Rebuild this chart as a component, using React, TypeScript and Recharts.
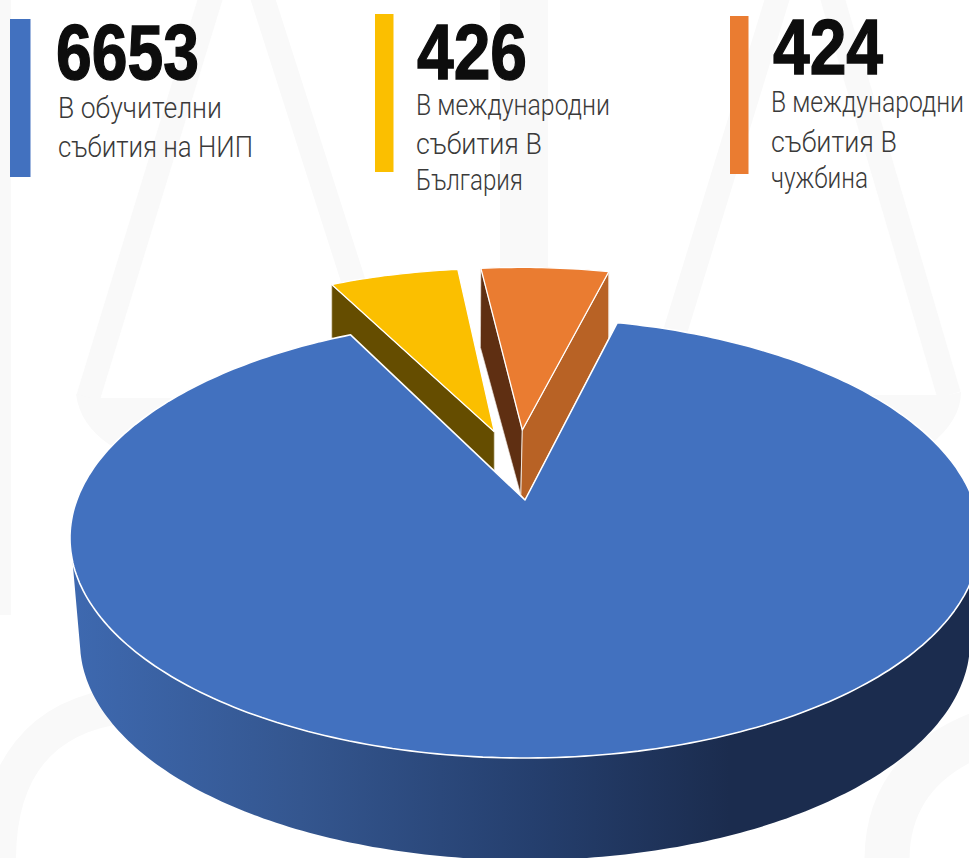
import React from "react";
import { PieChart, Pie } from "recharts";

// ---------- data ----------
const sliceIds = ["training", "intlBulgaria", "intlAbroad"];
const eventCounts = [6653, 426, 424];
const legendLines = [
  ["В обучителни", "събития на НИП"],
  ["В международни", "събития В", "България"],
  ["В международни", "събития В", "чужбина"],
];
const sliceColors = ["#4271BF", "#FBBF00", "#EA7C31"];
// painted back to front: the big slice covers the feet of the two pulled-out ones
const drawOrder = [1, 2, 0];

const pieData = drawOrder.map((i) => ({
  id: sliceIds[i],
  name: legendLines[i].join(" "),
  value: eventCounts[i],
  fill: sliceColors[i],
}));

// ---------- look of the tilted pie (style only, no values) ----------
const W = 969;
const H = 858;
const CX = 525;
const CY = 538;
const R = 455;
const TILT = 220 / 455;
const WARP = 0.165;
const NUM_FONT = '"Liberation Sans Narrow", "Liberation Sans", sans-serif';
const TXT_FONT = 'Roboto, "Liberation Sans Narrow", sans-serif';
const MARK_GREY = "#F9F9F9";

type Geom = {
  ox: number; oy: number; rx: number; ry: number; ax: number; ay: number;
  apexDepth: number; rimDepth: number; sideR?: string; sideL?: string; sideStart?: string;
};
const geoms: Record<string, Geom> = {
  training: { ox: 0, oy: 0, rx: R, ry: R * TILT, ax: 0, ay: -38, apexDepth: 0, rimDepth: 0 },
  intlBulgaria: { ox: -27, oy: -60, rx: 434, ry: 209.5, ax: -30.7, ay: -106.3, apexDepth: 39, rimDepth: 53, sideStart: "#654D00" },
  intlAbroad: { ox: -4, oy: -63.6, rx: 433, ry: 207, ax: -2.7, ay: -108, apexDepth: 65, rimDepth: 67, sideR: "#B86225", sideL: "#5F2F12" },
};

const toRad = (d: number) => (d * Math.PI) / 180;
// pie angle -> angle on the drawn ellipse, measured from north, slightly foreshortened at the back
const warp = (angle: number) => {
  const d = toRad(angle - 90);
  return d - WARP * Math.sin(d);
};
const rimPoint = (cx: number, cy: number, g: Geom, angle: number): [number, number] => {
  const d = warp(angle);
  return [cx + g.ox - g.rx * Math.sin(d), cy + g.oy - g.ry * Math.cos(d)];
};
const pathOf = (pts: [number, number][]) =>
  "M" + pts.map((p) => `${p[0].toFixed(1)},${p[1].toFixed(1)}`).join("L") + "Z";

const arcPoints = (fn: (a: number) => [number, number], from: number, to: number) => {
  const n = Math.max(2, Math.ceil(Math.abs(to - from)));
  const out: [number, number][] = [];
  for (let i = 0; i <= n; i++) out.push(fn(from + ((to - from) * i) / n));
  return out;
};

function Slice3D(props: any) {
  const { cx, cy, startAngle, endAngle, fill, payload } = props;
  const g = geoms[payload.id];
  const apex: [number, number] = [cx + g.ax, cy + g.ay];
  const rim = arcPoints((a) => rimPoint(cx, cy, g, a), startAngle, endAngle);
  const top = pathOf([apex, ...rim]);
  const faces: React.ReactNode[] = [];

  if (payload.id === "intlBulgaria") {
    const p = rim[0];
    faces.push(
      <path key="s" fill={g.sideStart} stroke="#E8E2D0" strokeWidth={0.8}
        d={pathOf([p, apex, [apex[0], apex[1] + g.apexDepth], [p[0], p[1] + g.rimDepth]])} />
    );
  }
  if (payload.id === "intlAbroad") {
    // clockwise pie: the first rim point is the left end of the slice
    const l = rim[0];
    const r = rim[rim.length - 1];
    const footL: [number, number] = [apex[0] - 1.5, apex[1] + g.apexDepth];
    faces.push(
      <path key="l" fill={g.sideL} stroke="#EFE6DE" strokeWidth={0.6}
        d={pathOf([l, apex, footL, [l[0] - 0.5, l[1] + 79]])} />,
      <path key="r" fill={g.sideR} stroke="#F2E6DC" strokeWidth={1}
        d={pathOf([r, apex, footL, [cx, cy - 38], [r[0], r[1] + g.rimDepth]])} />
    );
  }
  return (
    <g>
      {faces}
      <path d={top} fill={fill} stroke="#FFFFFF" strokeWidth={payload.id === "training" ? 1.6 : 1.3} strokeLinejoin="round" />
    </g>
  );
}

function Wall(_: any) {
  // outer wall of the big slice, painted before every slice
  const top = arcPoints(
    (deg) => [CX - R * Math.sin(toRad(deg)), CY - R * TILT * Math.cos(toRad(deg))],
    96, 272
  );
  const bottom = arcPoints(
    (deg) => [CX - 445 * Math.sin(toRad(deg)), CY + 104 - 218 * Math.cos(toRad(deg))],
    272, 92
  );
  return (
    <g>
      <defs>
        <linearGradient id="wallShade" gradientUnits="userSpaceOnUse" x1={70} y1={0} x2={730} y2={0}>
          <stop offset="0" stopColor="#3E69B0" />
          <stop offset="0.35" stopColor="#34568F" />
          <stop offset="0.7" stopColor="#253F6E" />
          <stop offset="1" stopColor="#1B2C4E" />
        </linearGradient>
      </defs>
      <path d={pathOf([...top, ...bottom])} fill="url(#wallShade)" />
    </g>
  );
}

function Watermark() {
  const s = { fill: "none", stroke: MARK_GREY, strokeLinejoin: "round" as const, strokeLinecap: "butt" as const };
  return (
    <g>
      <rect x={0} y={0} width={11} height={615} fill={MARK_GREY} />
      <rect x={500} y={0} width={48} height={400} fill={MARK_GREY} />
      <path {...s} strokeWidth={24} d="M213,-10 L88,398" />
      <path {...s} strokeWidth={24} d="M260,-10 L395,411" />
      <path {...s} strokeWidth={24} d="M780,-10 L652,407" />
      <path {...s} strokeWidth={24} d="M830,-10 L949,395" />
      <path fill={MARK_GREY} d="M76,394 Q80,425 110,445 L300,445 L300,398 L90,398 Z" />
      <path fill={MARK_GREY} d="M961,392 Q961,420 930,445 L640,445 L640,395 L948,395 Z" />
      <path {...s} strokeWidth={36} d="M-2,860 C-2,770 40,715 125,705" />
      <path {...s} strokeWidth={45} d="M887,860 C887,790 930,750 990,730" />
    </g>
  );
}

const legendBoxes = [
  { barX: 10, barW: 20.5, barY: 19, barH: 158, numX: 56, numY: 79, numW: 143, txtX: 58, ys: [118, 157], ws: [164, 195] },
  { barX: 375, barW: 18.5, barY: 14, barH: 158, numX: 417, numY: 79, numW: 110, txtX: 416, ys: [115, 154, 190], ws: [194, 126, 107] },
  { barX: 730, barW: 18.5, barY: 16, barH: 158, numX: 773, numY: 74, numW: 110, txtX: 771, ys: [112, 152, 188], ws: [193, 126, 97] },
];

// horizontal squeeze that brings a text to the width it has in the picture
const measureCtx = document.createElement("canvas").getContext("2d");
const squeeze = (text: string, font: string, target: number) => {
  if (!measureCtx) return 1;
  measureCtx.font = font;
  const w = measureCtx.measureText(text).width;
  return w > 0 ? target / w : 1;
};

function LegendBlock() {
  return (
    <g>
      {legendBoxes.map((b, i) => {
        const num = String(eventCounts[i]);
        const numScale = squeeze(num, `700 78px ${NUM_FONT}`, b.numW);
        return (
          <g key={sliceIds[i]}>
            <rect x={b.barX} y={b.barY} width={b.barW} height={b.barH} fill={sliceColors[i]} />
            <text transform={`translate(${b.numX},${b.numY}) scale(${numScale},1)`} fontFamily={NUM_FONT} fontWeight={700}
              fontSize={78} fill="#0D0D0D" stroke="#0D0D0D" strokeWidth={1.4}>
              {num}
            </text>
            {legendLines[i].map((line, j) => (
              <text key={line}
                transform={`translate(${b.txtX},${b.ys[j]}) scale(${squeeze(line, `300 30px ${TXT_FONT}`, b.ws[j])},1)`}
                fontFamily={TXT_FONT} fontWeight={300} fontSize={30} fill="#3A3A3A">
                {line}
              </text>
            ))}
          </g>
        );
      })}
    </g>
  );
}

export default function App() {
  return (
    <div style={{ position: "absolute", left: 0, top: 0, width: W, height: H, overflow: "hidden", background: "#fff" }}>
      <PieChart width={W} height={H} margin={{ top: 0, right: 0, bottom: 0, left: 0 }}>
        <Watermark />
        <Wall />
        <Pie
          data={pieData}
          dataKey="value"
          nameKey="name"
          cx={CX}
          cy={CY}
          innerRadius={0}
          outerRadius={R}
          startAngle={116.8}
          endAngle={116.8 - 360}
          paddingAngle={0}
          stroke="none"
          isAnimationActive={false}
          shape={Slice3D}
          rootTabIndex={-1}
        />
        <LegendBlock />
      </PieChart>
    </div>
  );
}
